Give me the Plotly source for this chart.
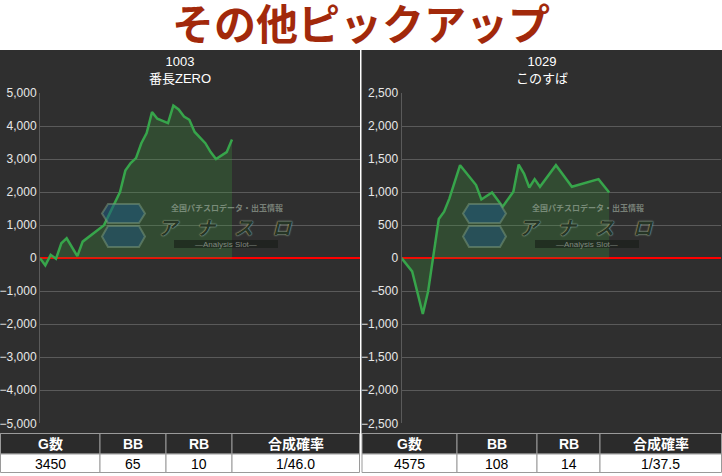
import plotly.graph_objects as go

W, H = 722, 476

# ---------------- data ----------------
page_title = "その他ピックアップ"

left_id, left_name = "1003", "番長ZERO"
left_x = [0, 1, 2, 3, 4, 5, 7, 8, 12, 15, 16, 17, 18, 19, 20, 21, 22, 24, 25, 26, 27, 28, 29, 31, 32, 33, 35, 36]
left_y = [0, -220, 100, -20, 450, 600, 60, 500, 1000, 2000, 2650, 2880, 3030, 3480, 3790, 4420, 4220,
          4090, 4620, 4500, 4290, 4190, 3820, 3480, 3210, 3000, 3210, 3590]
left_yticks = [-5000, -4000, -3000, -2000, -1000, 0, 1000, 2000, 3000, 4000, 5000]

right_id, right_name = "1029", "このすば"
right_x = [0, 2, 4, 5, 7, 8, 9, 10, 11, 14, 15, 17, 19, 21, 22, 23, 24, 25, 26, 29, 32, 37, 39]
right_y = [0, -200, -845, -500, 593, 704, 905, 1166, 1407, 1106, 889, 995, 779, 1005, 1417, 1281,
           1070, 1196, 1080, 1407, 1080, 1196, 995]
right_yticks = [-2500, -2000, -1500, -1000, -500, 0, 500, 1000, 1500, 2000, 2500]

table_headers = ["G数", "BB", "RB", "合成確率"]
left_table = ["3450", "65", "10", "1/46.0"]
right_table = ["4575", "108", "14", "1/37.5"]

# ---------------- helpers ----------------
def px(x):
    return x / W

def py(y):
    return 1 - y / H

LINE = "rgb(55,165,75)"
FILL = "rgba(60,160,60,0.25)"
PANEL = "#2f2f2f"
GRID = "#5a5a5a"
TICKF = dict(family="Liberation Sans, Arial, sans-serif", size=12, color="#e8e8e8")

fig = go.Figure()

fig.add_trace(go.Scatter(x=left_x, y=left_y, mode="lines", line=dict(color=LINE, width=2.5),
                         fill="tozeroy", fillcolor=FILL, xaxis="x", yaxis="y", hoverinfo="skip",
                         showlegend=False))
fig.add_trace(go.Scatter(x=right_x, y=right_y, mode="lines", line=dict(color=LINE, width=2.5),
                         fill="tozeroy", fillcolor=FILL, xaxis="x2", yaxis="y2", hoverinfo="skip",
                         showlegend=False))

common_x = dict(range=[0, 60], showgrid=False, zeroline=False, showticklabels=False, ticks="",
                showline=False, fixedrange=True, automargin=False)
common_y = dict(showgrid=True, gridcolor=GRID, gridwidth=1, zeroline=True, zerolinecolor="#ff0000",
                zerolinewidth=1.5, showline=True, linecolor=GRID, linewidth=1, ticks="",
                tickfont=TICKF, tickformat=",d", fixedrange=True, automargin=False)

ydom = [py(423.3), py(93.0)]

fig.update_layout(
    width=W, height=H, autosize=False,
    margin=dict(l=0, r=0, t=0, b=0, pad=0),
    paper_bgcolor="white", plot_bgcolor="rgba(0,0,0,0)",
    xaxis=dict(domain=[px(40), px(360)], anchor="y", **common_x),
    yaxis=dict(domain=ydom, anchor="x", range=[-5000, 5000], tickvals=left_yticks, **common_y),
    xaxis2=dict(domain=[px(401.5), px(721)], anchor="y2", **common_x),
    yaxis2=dict(domain=ydom, anchor="x2", range=[-2500, 2500], tickvals=right_yticks, **common_y),
    showlegend=False,
)

shapes = [
    dict(type="rect", xref="paper", yref="paper", x0=0, x1=px(360), y0=py(433.5), y1=py(50),
         fillcolor=PANEL, line=dict(width=0), layer="below"),
    dict(type="rect", xref="paper", yref="paper", x0=px(361.5), x1=1, y0=py(433.5), y1=py(50),
         fillcolor=PANEL, line=dict(width=0), layer="below"),
]

annotations = [
    dict(text=page_title, x=0.5, y=py(21.5), xref="paper", yref="paper", showarrow=False,
         font=dict(family="Noto Sans CJK JP", size=42, color="#a2290b", weight="bold"),
         xanchor="center", yanchor="middle"),
    dict(text=f"{left_id}<br>{left_name}", x=px(180), y=py(70), xref="paper", yref="paper",
         showarrow=False, font=dict(family="Liberation Sans, Noto Sans CJK JP", size=13, color="white"),
         xanchor="center", yanchor="middle"),
    dict(text=f"{right_id}<br>{right_name}", x=px(542), y=py(70), xref="paper", yref="paper",
         showarrow=False, font=dict(family="Liberation Sans, Noto Sans CJK JP", size=13, color="white"),
         xanchor="center", yanchor="middle"),
]

# watermark (decorative logo)
def hexpath(x0, x1, y0, y1, cut):
    ym = (y0 + y1) / 2
    pts = [(x0 + cut, y0), (x1 - cut, y0), (x1, ym), (x1 - cut, y1), (x0 + cut, y1), (x0, ym)]
    return "M " + " L ".join(f"{px(a):.5f},{py(b):.5f}" for a, b in pts) + " Z"

for off in (0, 361):
    shapes.append(dict(type="path", xref="paper", yref="paper", path=hexpath(102 + off, 145 + off, 204, 223, 6),
                       fillcolor="rgba(30,90,130,0.55)", line=dict(color="rgba(120,150,120,0.55)", width=2)))
    shapes.append(dict(type="path", xref="paper", yref="paper", path=hexpath(102 + off, 145 + off, 226, 247, 6),
                       fillcolor="rgba(30,85,125,0.5)", line=dict(color="rgba(120,150,120,0.55)", width=2)))
    shapes.append(dict(type="rect", xref="paper", yref="paper", x0=px(174 + off), x1=px(278 + off),
                       y0=py(248), y1=py(240), fillcolor="rgba(20,25,20,0.55)", line=dict(width=0)))
    annotations.append(dict(text="全国パチスロデータ・出玉情報", x=px(227 + off), y=py(207.5), xref="paper",
                            yref="paper", showarrow=False, xanchor="center", yanchor="middle",
                            font=dict(family="Noto Sans CJK JP", size=8, color="rgba(170,185,170,0.6)",
                                      weight="bold")))
    annotations.append(dict(text="<i>ア\u2003ナ\u2003ス\u2003ロ</i>", x=px(225 + off), y=py(226.5),
                            xref="paper", yref="paper",
                            showarrow=False, xanchor="center", yanchor="middle",
                            font=dict(family="Noto Sans CJK JP", size=19, color="rgba(15,30,15,0.85)",
                                      weight="bold",
                                      shadow="0px 0px 1px rgba(170,190,170,1), 0px 0px 2px rgba(170,190,170,1)")))
    annotations.append(dict(text="—Analysis Slot—", x=px(226 + off), y=py(244.5), xref="paper", yref="paper",
                            showarrow=False, xanchor="center", yanchor="middle",
                            font=dict(family="Liberation Sans", size=8, color="rgba(170,180,170,0.7)")))

# tables drawn as cells (shapes) + text (annotations)
HDR_TOP, HDR_BOT, ROW_BOT = 433.5, 454.0, 472.5
BORDER = "#9a9a9a"

def add_table(vals, edges):
    for i in range(len(table_headers)):
        x0, x1 = edges[i], edges[i + 1]
        shapes.append(dict(type="rect", xref="paper", yref="paper", x0=px(x0), x1=px(x1),
                           y0=py(HDR_BOT), y1=py(HDR_TOP), fillcolor="#2b2b2b",
                           line=dict(color=BORDER, width=1)))
        shapes.append(dict(type="rect", xref="paper", yref="paper", x0=px(x0), x1=px(x1),
                           y0=py(ROW_BOT), y1=py(HDR_BOT), fillcolor="white",
                           line=dict(color=BORDER, width=1)))
        cx = px((x0 + x1) / 2)
        annotations.append(dict(text=table_headers[i], x=cx, y=py((HDR_TOP + HDR_BOT) / 2 + 0.5),
                                xref="paper", yref="paper", showarrow=False, xanchor="center", yanchor="middle",
                                font=dict(family="Liberation Sans, Noto Sans CJK JP", size=14, color="white",
                                          weight="bold")))
        annotations.append(dict(text=vals[i], x=cx, y=py((HDR_BOT + ROW_BOT) / 2 + 0.5),
                                xref="paper", yref="paper", showarrow=False, xanchor="center", yanchor="middle",
                                font=dict(family="Liberation Sans Narrow, Liberation Sans", size=14,
                                          color="black")))

add_table(left_table, [0.5, 100, 166, 232, 359.5])
add_table(right_table, [362, 457, 537, 600, 721.5])

fig.update_layout(shapes=shapes, annotations=annotations)

fig.write_html(
    "out.html",
    config={"displayModeBar": False},
    post_script=(
        "document.documentElement.style.margin='0';document.body.style.margin='0';"
        "document.documentElement.style.overflow='hidden';document.body.style.overflow='hidden';"
        "var d=document.getElementById('{plot_id}');d.style.position='fixed';"
        "d.style.left='0px';d.style.top='0px';"
    ),
)
